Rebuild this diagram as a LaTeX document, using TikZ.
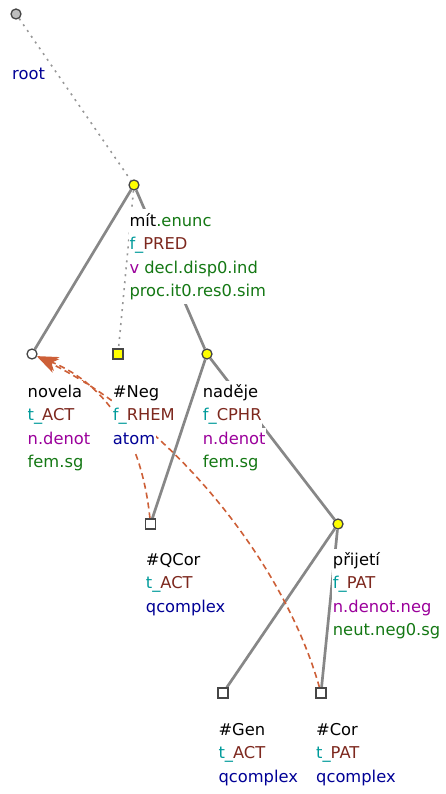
\documentclass[tikz,border=0pt]{standalone}
\usepackage{fontspec}
\setmainfont{DejaVu Sans}
\usetikzlibrary{arrows.meta}
\definecolor{tfa}{RGB}{0,155,155}
\definecolor{fun}{RGB}{125,40,30}
\definecolor{sem}{RGB}{155,0,155}
\definecolor{gram}{RGB}{20,120,20}
\definecolor{nav}{RGB}{0,0,150}
\definecolor{edgec}{RGB}{135,135,135}
\definecolor{dotc}{RGB}{150,150,150}
\definecolor{coref}{RGB}{205,95,55}
\definecolor{yel}{RGB}{255,255,0}
\definecolor{rootc}{RGB}{190,190,190}
\definecolor{nodeline}{RGB}{70,70,70}
\pgfdeclarelayer{edgelayer}
\pgfdeclarelayer{labellayer}
\pgfsetlayers{edgelayer,labellayer,main}
\begin{document}
\begin{tikzpicture}[x=1pt,y=-1pt,
  tnode/.style={circle, draw=nodeline, line width=1.3pt, minimum size=10pt, inner sep=0pt},
  snode/.style={rectangle, draw=nodeline, line width=1.3pt, minimum size=10pt, inner sep=0pt},
  lbl/.style={anchor=base west, fill=white, inner xsep=0.5pt, inner ysep=0pt, text height=16.5pt, text depth=7pt, font=\fontsize{16.3}{23.5}\selectfont},
  edge/.style={draw=edgec, line width=2.7pt},
  dotedge/.style={draw=dotc, line width=1.6pt, dash pattern=on 2pt off 5pt},
  corefl/.style={draw=coref, line width=1.6pt, dash pattern=on 6pt off 4pt, -{Stealth[length=21pt,width=15pt,inset=6pt,fill=coref]}},
]
\useasboundingbox (0,0) rectangle (446,794);
% tree nodes
\node[tnode, fill=rootc] (root) at (16,14) {};
\node[tnode, fill=yel] (mit) at (134,185) {};
\node[tnode, fill=white] (novela) at (32,354) {};
\node[snode, fill=yel] (neg) at (118,354) {};
\node[tnode, fill=yel] (nadeje) at (207,354) {};
\node[snode, fill=white] (qcor) at (150.5,524) {};
\node[tnode, fill=yel] (prijeti) at (338,524) {};
\node[snode, fill=white] (gen) at (223,693) {};
\node[snode, fill=white] (cor) at (321,693) {};
% edges
\begin{pgfonlayer}{edgelayer}
\draw[dotedge] (root) -- (mit);
\draw[dotedge] (mit) -- (neg);
\draw[edge] (mit) -- (novela);
\draw[edge] (mit) -- (nadeje);
\draw[edge] (nadeje) -- (qcor);
\draw[edge] (nadeje) -- (prijeti);
\draw[edge] (prijeti) -- (gen);
\draw[edge] (prijeti) -- (cor);
\draw[corefl] (qcor) .. controls (142,440) and (108,385) .. (novela);
\draw[corefl] (cor) .. controls (285,565) and (175,425) .. (novela);
\end{pgfonlayer}
% labels
\begin{pgfonlayer}{labellayer}
\node[lbl] (root-1) at (11.5,80) {\color{nav}root};
\node[lbl] (mit-1) at (128.8,226) {mít{\color{gram}.enunc}};
\node[lbl] (mit-2) at (128.8,249.5) {{\color{tfa}f\_}{\color{fun}PRED}};
\node[lbl] (mit-3) at (128.8,273) {{\color{sem}v} {\color{gram}decl.disp0.ind}};
\node[lbl] (mit-4) at (128.8,296.5) {{\color{gram}proc.it0.res0.sim}};
\node[lbl] (novela-1) at (27,397) {novela};
\node[lbl] (novela-2) at (27,420.5) {{\color{tfa}t\_}{\color{fun}ACT}};
\node[lbl] (novela-3) at (27,444) {{\color{sem}n.denot}};
\node[lbl] (novela-4) at (27,467.5) {{\color{gram}fem.sg}};
\node[lbl] (neg-1) at (112.2,397) {\#Neg};
\node[lbl] (neg-2) at (112.2,420.5) {{\color{tfa}f\_}{\color{fun}RHEM}};
\node[lbl] (neg-3) at (112.2,444) {{\color{nav}atom}};
\node[lbl] (nadeje-1) at (202.2,397) {naděje};
\node[lbl] (nadeje-2) at (202.2,420.5) {{\color{tfa}f\_}{\color{fun}CPHR}};
\node[lbl] (nadeje-3) at (202.2,444) {{\color{sem}n.denot}};
\node[lbl] (nadeje-4) at (202.2,467.5) {{\color{gram}fem.sg}};
\node[lbl] (qcor-1) at (145.2,565) {\#QCor};
\node[lbl] (qcor-2) at (145.2,588.5) {{\color{tfa}t\_}{\color{fun}ACT}};
\node[lbl] (qcor-3) at (145.2,612) {{\color{nav}qcomplex}};
\node[lbl] (prijeti-1) at (332.2,565) {přijetí};
\node[lbl] (prijeti-2) at (332.2,588.5) {{\color{tfa}f\_}{\color{fun}PAT}};
\node[lbl] (prijeti-3) at (332.2,612) {{\color{sem}n.denot.neg}};
\node[lbl] (prijeti-4) at (332.2,635.5) {{\color{gram}neut.neg0.sg}};
\node[lbl] (gen-1) at (217.8,735) {\#Gen};
\node[lbl] (gen-2) at (217.8,758.5) {{\color{tfa}t\_}{\color{fun}ACT}};
\node[lbl] (gen-3) at (217.8,782) {{\color{nav}qcomplex}};
\node[lbl] (cor-1) at (315.5,735) {\#Cor};
\node[lbl] (cor-2) at (315.5,758.5) {{\color{tfa}t\_}{\color{fun}PAT}};
\node[lbl] (cor-3) at (315.5,782) {{\color{nav}qcomplex}};
\end{pgfonlayer}
\end{tikzpicture}
\end{document}
